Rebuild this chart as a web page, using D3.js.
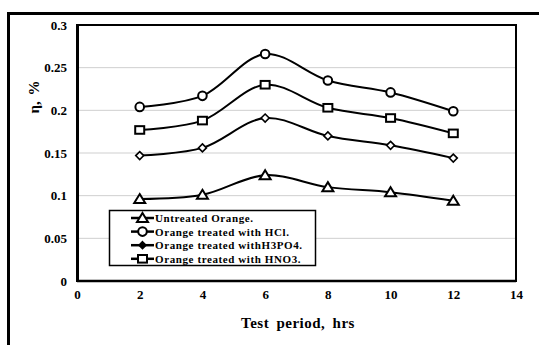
<!DOCTYPE html>
<html>
<head>
<meta charset="utf-8">
<script src="https://cdn.jsdelivr.net/npm/d3@7"></script>
<style>
  html, body { margin: 0; padding: 0; background: #fff; }
  #chart { position: relative; width: 539px; height: 345px; overflow: hidden; }
  #frame { position: absolute; left: 7px; top: 12px; width: 560px; height: 360px;
           border-left: 3px solid #000; border-top: 3px solid #000; box-sizing: border-box; }
  svg { display: block; position: absolute; left: 0; top: 0; }
  text { font-family: "Liberation Serif", "Times New Roman", serif; font-weight: bold; }
</style>
</head>
<body>
<div id="chart"><div id="frame"></div></div>
<script>
// data
const hours = [2, 4, 6, 8, 10, 12];
const untreated = [0.096, 0.101, 0.124, 0.110, 0.104, 0.094];
const hcl = [0.204, 0.217, 0.266, 0.235, 0.221, 0.199];
const h3po4 = [0.147, 0.156, 0.191, 0.170, 0.159, 0.144];
const hno3 = [0.177, 0.188, 0.230, 0.203, 0.191, 0.173];
const xTicks = [0, 2, 4, 6, 8, 10, 12, 14];
const yTicks = [0, 0.05, 0.1, 0.15, 0.2, 0.25, 0.3];

const series = [
  { name: "Untreated Orange.", values: untreated, marker: "triangle" },
  { name: "Orange treated with HCl.", values: hcl, marker: "circle" },
  { name: "Orange treated withH3PO4.", values: h3po4, marker: "diamond" },
  { name: "Orange treated with HNO3.", values: hno3, marker: "square" }
];

const W = 539, H = 345;
const margin = { top: 25, right: 23, bottom: 64, left: 77 };
const width = W - margin.left - margin.right;
const height = H - margin.top - margin.bottom;

const svg = d3.select("#chart").append("svg")
  .attr("width", W)
  .attr("height", H);

const g = svg.append("g")
  .attr("transform", `translate(${margin.left},${margin.top})`);

const x = d3.scaleLinear().domain([0, 14]).range([0, width]);
const y = d3.scaleLinear().domain([0, 0.3]).range([height, 0]);

// gridlines
g.selectAll(".grid")
  .data(yTicks.filter(d => d > 0 && d < 0.3))
  .enter().append("line")
  .attr("x1", 0).attr("x2", width)
  .attr("y1", d => y(d)).attr("y2", d => y(d))
  .attr("stroke", "#cfcfcf")
  .attr("stroke-width", 1);

// plot frame
g.append("rect")
  .attr("x", 0).attr("y", 0)
  .attr("width", width).attr("height", height)
  .attr("fill", "none")
  .attr("stroke", "#000")
  .attr("stroke-width", 2);
g.append("line")
  .attr("x1", 0.5).attr("x2", 0.5).attr("y1", 0).attr("y2", height)
  .attr("stroke", "#000").attr("stroke-width", 3);
g.append("line")
  .attr("x1", 0).attr("x2", width).attr("y1", height).attr("y2", height)
  .attr("stroke", "#000").attr("stroke-width", 2.5);

// axes
const xAxis = g.append("g")
  .attr("transform", `translate(0,${height})`)
  .call(d3.axisBottom(x).tickValues(xTicks).tickSize(0).tickPadding(9).tickFormat(d3.format("d")));
const yAxis = g.append("g")
  .call(d3.axisLeft(y).tickValues(yTicks).tickSize(0).tickPadding(10).tickFormat(d => d === 0 ? "0" : String(+d.toFixed(2))));
[xAxis, yAxis].forEach(a => {
  a.select(".domain").remove();
  a.selectAll("text")
    .style("font-family", "'Liberation Serif', serif")
    .style("font-weight", "bold")
    .style("font-size", "13px")
    .attr("fill", "#000");
});

// axis titles
svg.append("text")
  .attr("x", 298).attr("y", 328)
  .attr("text-anchor", "middle")
  .style("font-size", "15px")
  .style("letter-spacing", "0.5px")
  .style("word-spacing", "3px")
  .text("Test period, hrs");

svg.append("text")
  .attr("transform", "translate(39,97) rotate(-90)")
  .attr("text-anchor", "middle")
  .style("font-size", "15px")
  .style("word-spacing", "2px")
  .text("η, %");

// lines
const line = d3.line()
  .x((d, i) => x(hours[i]))
  .y(d => y(d))
  .curve(d3.curveCatmullRom.alpha(0.5));

function drawMarker(sel, type, cx, cy, legendMark) {
  if (type === "triangle") {
    sel.append("path")
      .attr("d", `M${cx},${cy - 5}L${cx + 5.5},${cy + 4}L${cx - 5.5},${cy + 4}Z`)
      .attr("fill", "#fff").attr("stroke", "#000").attr("stroke-width", 2);
  } else if (type === "circle") {
    sel.append("circle")
      .attr("cx", cx).attr("cy", cy).attr("r", 4.3)
      .attr("fill", "#fff").attr("stroke", "#000").attr("stroke-width", 2);
  } else if (type === "diamond") {
    const r = legendMark ? 3.5 : 4;
    sel.append("path")
      .attr("d", `M${cx},${cy - r}L${cx + r},${cy}L${cx},${cy + r}L${cx - r},${cy}Z`)
      .attr("fill", legendMark ? "#000" : "#fff").attr("stroke", "#000").attr("stroke-width", 1.6);
  } else {
    sel.append("rect")
      .attr("x", cx - 4.5).attr("y", cy - 3.8).attr("width", 9).attr("height", 7.6)
      .attr("fill", "#fff").attr("stroke", "#000").attr("stroke-width", 2);
  }
}

series.forEach(s => {
  g.append("path")
    .datum(s.values)
    .attr("d", line)
    .attr("fill", "none")
    .attr("stroke", "#000")
    .attr("stroke-width", 2);
  const mg = g.append("g");
  s.values.forEach((v, i) => drawMarker(mg, s.marker, x(hours[i]), y(v), false));
});

// legend
const legend = svg.append("g");
legend.append("rect")
  .attr("x", 109.5).attr("y", 210.5)
  .attr("width", 206).attr("height", 55)
  .attr("fill", "#fff")
  .attr("stroke", "#000")
  .attr("stroke-width", 1.5);

series.forEach((s, i) => {
  const ly = 218 + i * 13.6;
  legend.append("line")
    .attr("x1", 131).attr("x2", 154)
    .attr("y1", ly).attr("y2", ly)
    .attr("stroke", "#000").attr("stroke-width", 2.5);
  drawMarker(legend, s.marker, 142.5, ly, true);
  legend.append("text")
    .attr("x", 155).attr("y", ly + 4)
    .style("font-size", "11px")
    .style("letter-spacing", "0.6px")
    .text(s.name);
});
</script>
</body>
</html>
